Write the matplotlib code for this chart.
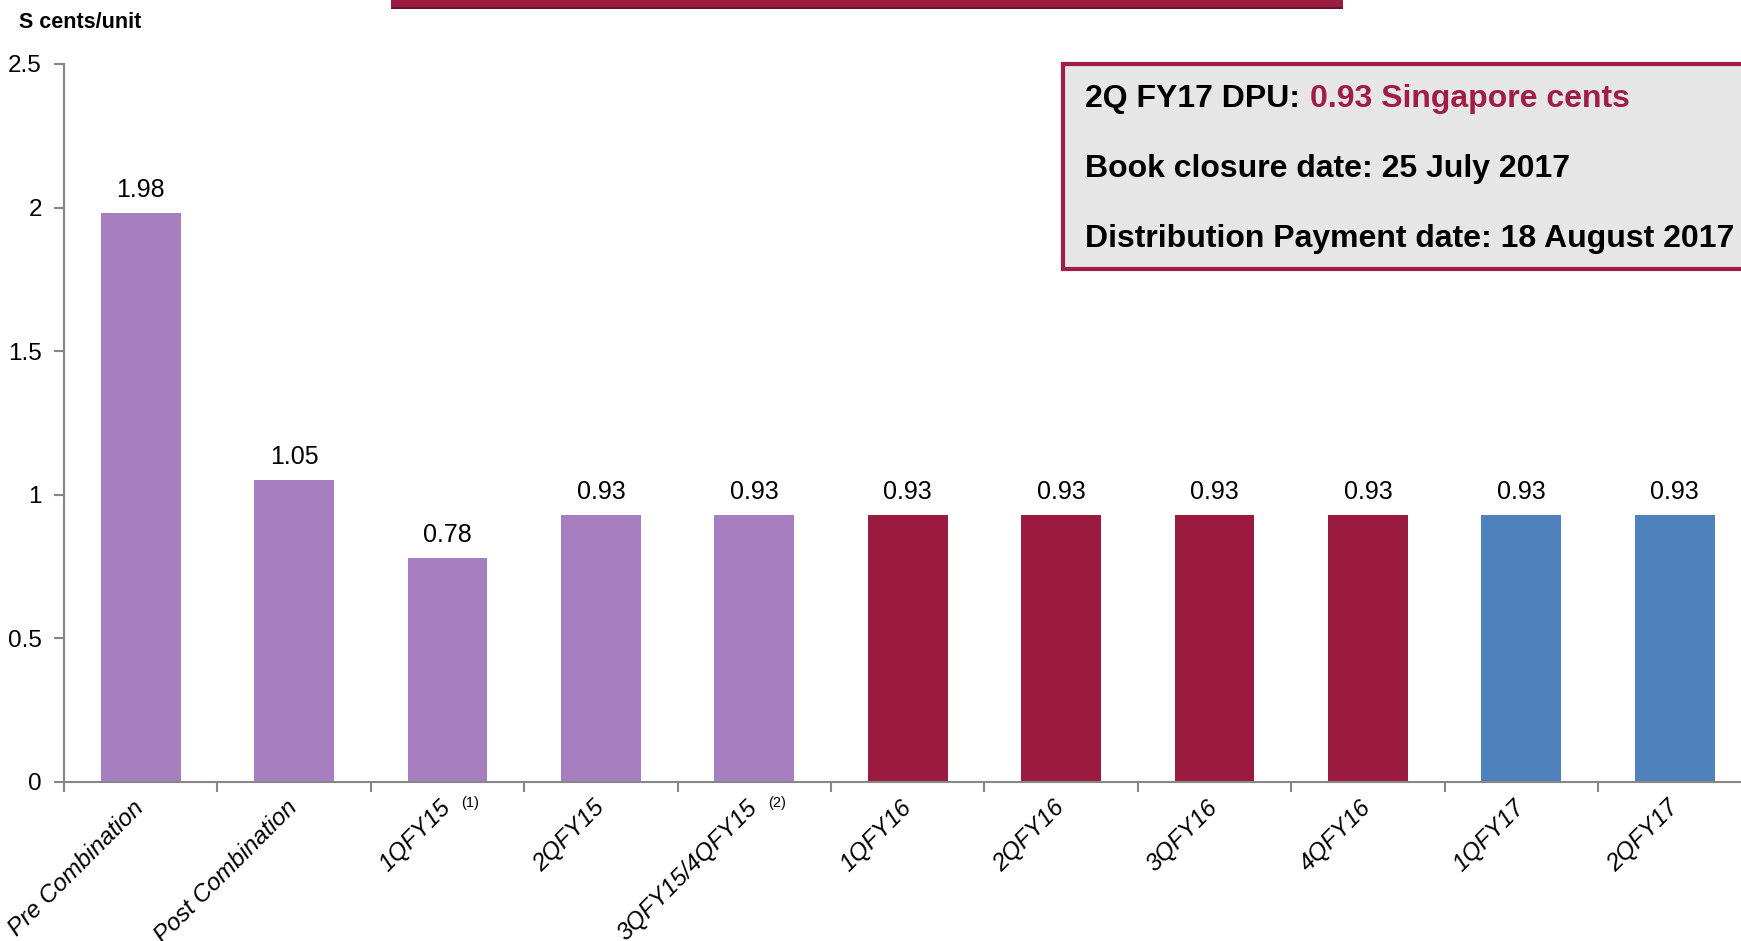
import numpy as np
import matplotlib.pyplot as plt
from matplotlib.patches import Rectangle
from matplotlib.text import Annotation

plt.rcParams['font.family'] = ['Liberation Sans', 'DejaVu Sans']

# ---- data ----
categories = ['Pre Combination', 'Post Combination', '1QFY15', '2QFY15',
              '3QFY15/4QFY15', '1QFY16', '2QFY16', '3QFY16', '4QFY16',
              '1QFY17', '2QFY17']
dpu = [1.98, 1.05, 0.78, 0.93, 0.93, 0.93, 0.93, 0.93, 0.93, 0.93, 0.93]
bar_colors = ['#a77fc0'] * 5 + ['#9b1b40'] * 4 + ['#4f81bd'] * 2
footnotes = {2: '(1)', 4: '(2)'}
ytick_vals = [0, 0.5, 1, 1.5, 2, 2.5]
ytick_labels = ['0', '0.5', '1', '1.5', '2', '2.5']

box_line1a = '2Q FY17 DPU:'
box_line1b = '0.93 Singapore cents'
box_line2 = 'Book closure date: 25 July 2017'
box_line3 = 'Distribution Payment date: 18 August 2017'

crimson = '#9b1b40'
box_red = '#a01d45'
grey = '#868686'

W, H = 1741, 941
fig = plt.figure(figsize=(W / 100, H / 100), dpi=100)
ax = fig.add_axes([64 / W, 1 - 782 / H, 11 * 153.4 / W, (782 - 64) / H])

x = np.arange(len(categories))
ax.bar(x, dpu, width=0.52, color=bar_colors, zorder=2)
ax.set_xlim(-0.5, len(categories) - 0.5)
ax.set_ylim(0, 2.5)

for s in ['top', 'right']:
    ax.spines[s].set_visible(False)
for s in ['left', 'bottom']:
    ax.spines[s].set_color(grey)
    ax.spines[s].set_linewidth(1.5)

ax.set_yticks(ytick_vals)
ax.set_yticklabels(ytick_labels)
ax.tick_params(axis='y', length=7, width=1.5, color=grey, labelsize=17.5, pad=9)

ax.set_xticks(x)
ax.set_xticklabels(categories, rotation=45, ha='right', va='center',
                   rotation_mode='anchor', fontstyle='italic', fontsize=17.5)
ax.tick_params(axis='x', length=0, pad=16)
ax.set_xticks(np.arange(-0.5, len(categories), 1), minor=True)
ax.tick_params(axis='x', which='minor', length=7, width=1.5, color=grey)

for i, v in enumerate(dpu):
    ax.annotate(f'{v:.2f}', xy=(i, v), xytext=(0, 8), textcoords='offset points',
                ha='center', va='bottom', fontsize=18)

for i, note in footnotes.items():
    ax.annotate(note, xy=(i, 0), xycoords=('data', 'axes fraction'),
                xytext=(10, -15), textcoords='offset points',
                ha='left', va='center', fontsize=10.5, annotation_clip=False)

fig.text(19 / W, 1 - 22 / H, 'S cents/unit', fontsize=15.5, fontweight='bold',
         ha='left', va='center')

# banner at top
fig.patches.append(Rectangle((391 / W, 1 - 9 / H), (1343 - 391) / W, 9 / H,
                             transform=fig.transFigure, facecolor=crimson,
                             edgecolor='none'))
fig.patches.append(Rectangle((391 / W, 1 - 9 / H), (1343 - 391) / W, 2 / H,
                             transform=fig.transFigure, facecolor='#6b1230',
                             edgecolor='none'))

# info box
fig.patches.append(Rectangle((1063 / W, 1 - 269 / H), (1770 - 1063) / W,
                             (269 - 64) / H, transform=fig.transFigure,
                             facecolor='#e6e6e6', edgecolor=box_red,
                             linewidth=3, zorder=3))
box_fs = 23
t1 = fig.text(1085 / W, 1 - 99 / H, box_line1a, fontsize=box_fs,
              fontweight='bold', ha='left', va='center', zorder=4)
t1b = Annotation(box_line1b, xy=(1, 0), xycoords=t1, xytext=(7, 0),
                 textcoords='offset points', fontsize=box_fs,
                 fontweight='bold', color=box_red, ha='left', va='bottom',
                 annotation_clip=False, zorder=4)
fig.add_artist(t1b)
fig.text(1085 / W, 1 - 169 / H, box_line2, fontsize=box_fs, fontweight='bold',
         ha='left', va='center', zorder=4)
fig.text(1085 / W, 1 - 239 / H, box_line3, fontsize=box_fs, fontweight='bold',
         ha='left', va='center', zorder=4)

fig.savefig('out.png', dpi=100)
